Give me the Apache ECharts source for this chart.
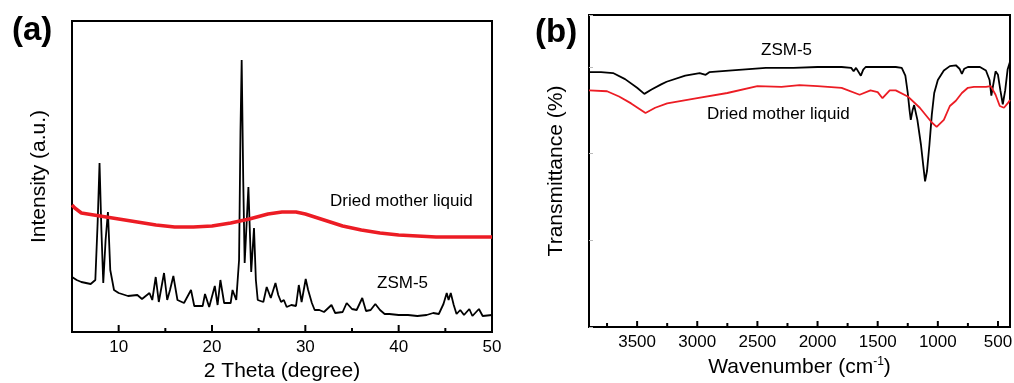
<!DOCTYPE html>
<html>
<head>
<meta charset="utf-8">
<script src="https://cdn.jsdelivr.net/npm/echarts@6/dist/echarts.min.js"></script>
<style>
  html, body { margin: 0; padding: 0; background: #fff; }
  #chart { width: 1014px; height: 383px; }
</style>
</head>
<body>
<div id="chart"></div>
<script>
// (a) XRD, 2 theta in degree, intensity in arbitrary units
const xrdTheta = [5, 5.5, 6, 6.5, 7, 7.5, 7.75, 7.95, 8.15, 8.35, 8.6, 8.85, 9.1, 9.5, 10, 11, 12, 12.5, 13.3, 13.6,
  13.97, 14.3, 14.86, 15.2, 15.5, 15.86, 16.3, 17, 17.75, 18.1, 19, 19.25, 19.7, 20.3, 20.6, 20.9, 21.3, 22, 22.2, 22.6,
  22.9, 23.05, 23.18, 23.35, 23.5, 23.9, 24.2, 24.5, 24.7, 24.9, 25.5, 25.86, 26.3, 26.8, 27.1, 27.4, 27.7, 28, 28.5, 29,
  29.3, 29.6, 30.04, 30.3, 30.7, 31, 31.5, 32, 32.8, 33.2, 34, 34.43, 35, 35.5, 36.1, 36.5, 37, 37.5, 38, 38.5,
  39, 40, 41, 42, 43, 43.7, 44.3, 44.8, 45.15, 45.35, 45.58, 45.9, 46.2, 46.6, 47, 47.57, 47.9, 48.6, 49, 50];
const xrdZsm5 = [55, 52, 50, 49, 48, 52, 110, 169, 102, 49, 92, 120, 62, 42, 39, 36, 37, 33, 39, 32,
  55, 30, 59, 32, 42, 56, 32, 29, 42, 26, 26, 38, 25, 46, 27, 52, 29, 29, 42, 32,
  72, 200, 272, 150, 69, 145, 60, 104, 52, 32, 30, 45, 34, 49, 37, 30, 32, 25, 27, 26,
  47, 30, 53, 42, 29, 22, 22, 20, 27, 19, 20, 29, 23, 22, 34, 21, 22, 28, 22, 18,
  18, 17, 17, 16, 17, 19, 18, 28, 39, 32, 39, 27, 18, 22, 17, 23, 16, 23, 16, 17];
const xrdMotherTheta = [5, 5.3, 6, 8, 10, 12, 14, 16, 18, 20, 22, 24, 26, 27.5, 29, 30, 32, 34, 36, 38, 40, 42, 44, 46, 48, 50];
const xrdMother = [127, 124, 119, 116, 113, 110, 107, 105, 105, 106, 109, 113, 118, 120, 120, 118, 112, 106, 102, 99, 97, 96, 95, 95, 95, 95];
const xrdMajorTicks = [10, 20, 30, 40, 50];
const xrdMinorTicks = [15, 25, 35, 45];

// (b) FTIR, wavenumber in cm-1, transmittance
const ftirWn = [3900, 3800, 3700, 3600, 3500, 3440, 3380, 3300, 3255, 3100, 2980, 2930, 2900, 2710, 2430, 2200, 2000, 1800,
  1720, 1700, 1680, 1640, 1620, 1600, 1500, 1350, 1300, 1270, 1250, 1235, 1225, 1210, 1197, 1170, 1140, 1120, 1106,
  1090, 1070, 1050, 1030, 1000, 950, 900, 850, 820, 800, 780, 750, 650, 600, 570, 555, 540, 520, 500, 480, 460, 440, 420, 400];
const ftirZsm5 = [294, 294, 293, 286, 276, 269, 274, 280, 283, 290, 293, 291, 294, 296, 299, 299, 300, 300,
  299, 295, 299, 290, 297, 300, 300, 300, 299, 290, 270, 250, 239, 250, 256, 239, 210, 185, 168,
  180, 210, 245, 270, 285, 296, 301, 302, 298, 292, 298, 300, 300, 296, 285, 267, 279, 295, 291, 273, 257, 273, 297, 306];
const ftirMotherWn = [3900, 3750, 3650, 3550, 3430, 3350, 3250, 3000, 2750, 2500, 2300, 2150, 2000, 1800, 1650, 1560, 1500,
  1460, 1400, 1350, 1250, 1150, 1050, 1010, 950, 900, 850, 800, 750, 700, 600, 560, 550, 520, 485, 450, 420, 400];
const ftirMother = [273, 272, 266, 258, 247, 253, 258, 264, 270, 278, 277, 279, 278, 276, 268, 273, 271,
  264, 273, 273, 266, 253, 236, 231, 239, 255, 261, 270, 276, 277, 277, 278, 276, 268, 255, 253, 258, 262];
const ftirMajorTicks = [500, 1000, 1500, 2000, 2500, 3000, 3500];
const ftirMinorTicks = [750, 1250, 1750, 2250, 2750, 3250, 3750];

const FONT = 'Arial, "Liberation Sans", sans-serif';
const RED = '#ec1c24';

function pairs(xs, ys) {
  return xs.map((x, i) => [x, ys[i]]);
}

// inward tick marks on the bottom axis: thin rect symbols sitting on the axis
function tickSeries(xIdx, yIdx, values, len) {
  return {
    type: 'scatter', xAxisIndex: xIdx, yAxisIndex: yIdx, silent: true, z: 5, clip: false,
    data: values.map(v => [v, 0]),
    symbol: 'rect', symbolSize: [2, len], symbolOffset: [0, -len / 2],
    itemStyle: { color: '#000', opacity: 1 },
    emphasis: { disabled: true }
  };
}

const chart = echarts.init(document.getElementById('chart'));

const option = {
  animation: false,
  backgroundColor: '#fff',
  grid: [
    { left: 72, right: 522, top: 21, bottom: 51, outerBoundsMode: 'none', show: true, borderColor: '#000', borderWidth: 2, backgroundColor: 'transparent' },
    { left: 589, right: 4, top: 15, bottom: 56, outerBoundsMode: 'none', show: true, borderColor: '#000', borderWidth: 2, backgroundColor: 'transparent' }
  ],
  xAxis: [
    {
      type: 'value', gridIndex: 0, min: 5, max: 50,
      name: '2 Theta (degree)', nameLocation: 'middle', nameGap: 25,
      nameTextStyle: { fontFamily: FONT, fontSize: 21, color: '#000' },
      axisLine: { show: false },
      axisTick: { show: false },
      axisLabel: { customValues: xrdMajorTicks, formatter: v => String(v), fontFamily: FONT, fontSize: 17, color: '#000', margin: 7 },
      splitLine: { show: false }
    },
    {
      type: 'value', gridIndex: 1, min: 400, max: 3900, inverse: true,
      name: 'Wavenumber (cm{sup|-1})', nameLocation: 'middle', nameGap: 27,
      nameTextStyle: {
        fontFamily: FONT, fontSize: 21, color: '#000',
        rich: { sup: { fontFamily: FONT, fontSize: 12, color: '#000', verticalAlign: 'top', padding: [0, 0, 10, 0] } }
      },
      axisLine: { show: false },
      axisTick: { show: false },
      axisLabel: { customValues: ftirMajorTicks, formatter: v => String(v), fontFamily: FONT, fontSize: 17, color: '#000', margin: 7 },
      splitLine: { show: false }
    }
  ],
  yAxis: [
    {
      type: 'value', gridIndex: 0, min: 0, max: 311,
      name: 'Intensity (a.u.)', nameLocation: 'middle', nameGap: 22,
      nameTextStyle: { fontFamily: FONT, fontSize: 21, color: '#000' },
      axisLine: { show: false }, axisTick: { show: false }, axisLabel: { show: false }, splitLine: { show: false }
    },
    {
      type: 'value', gridIndex: 1, min: 0, max: 360, interval: 100,
      name: 'Transmittance (%)', nameLocation: 'middle', nameGap: 22,
      nameTextStyle: { fontFamily: FONT, fontSize: 21, color: '#000' },
      axisLine: { show: false },
      axisTick: { inside: true, length: 4, lineStyle: { color: '#bbb', width: 1 } },
      axisLabel: { show: false }, splitLine: { show: false }
    }
  ],
  series: [
    {
      name: 'ZSM-5 XRD', type: 'line', xAxisIndex: 0, yAxisIndex: 0,
      data: pairs(xrdTheta, xrdZsm5), showSymbol: false,
      lineStyle: { color: '#000', width: 1.8 }
    },
    {
      name: 'Dried mother liquid XRD', type: 'line', xAxisIndex: 0, yAxisIndex: 0,
      data: pairs(xrdMotherTheta, xrdMother), showSymbol: false,
      lineStyle: { color: RED, width: 3.5 }
    },
    {
      name: 'ZSM-5 FTIR', type: 'line', xAxisIndex: 1, yAxisIndex: 1,
      data: pairs(ftirWn, ftirZsm5), showSymbol: false,
      lineStyle: { color: '#000', width: 1.8 }
    },
    {
      name: 'Dried mother liquid FTIR', type: 'line', xAxisIndex: 1, yAxisIndex: 1,
      data: pairs(ftirMotherWn, ftirMother), showSymbol: false,
      lineStyle: { color: RED, width: 1.8 }
    },
    tickSeries(0, 0, xrdMajorTicks, 7),
    tickSeries(0, 0, xrdMinorTicks, 4),
    tickSeries(1, 1, ftirMajorTicks, 6),
    tickSeries(1, 1, ftirMinorTicks, 4)
  ],
  graphic: [
    { type: 'text', x: 12, y: 31, style: { text: '(a)', font: 'bold 33px ' + FONT, fill: '#000', align: 'left', verticalAlign: 'middle' } },
    { type: 'text', x: 535, y: 33, style: { text: '(b)', font: 'bold 33px ' + FONT, fill: '#000', align: 'left', verticalAlign: 'middle' } },
    { type: 'text', x: 330, y: 201, style: { text: 'Dried mother liquid', font: '17px ' + FONT, fill: '#000', align: 'left', verticalAlign: 'middle' } },
    { type: 'text', x: 377, y: 283, style: { text: 'ZSM-5', font: '17px ' + FONT, fill: '#000', align: 'left', verticalAlign: 'middle' } },
    { type: 'text', x: 761, y: 50, style: { text: 'ZSM-5', font: '17px ' + FONT, fill: '#000', align: 'left', verticalAlign: 'middle' } },
    { type: 'text', x: 707, y: 114, style: { text: 'Dried mother liquid', font: '17px ' + FONT, fill: '#000', align: 'left', verticalAlign: 'middle' } }
  ]
};

chart.setOption(option);
</script>
</body>
</html>
